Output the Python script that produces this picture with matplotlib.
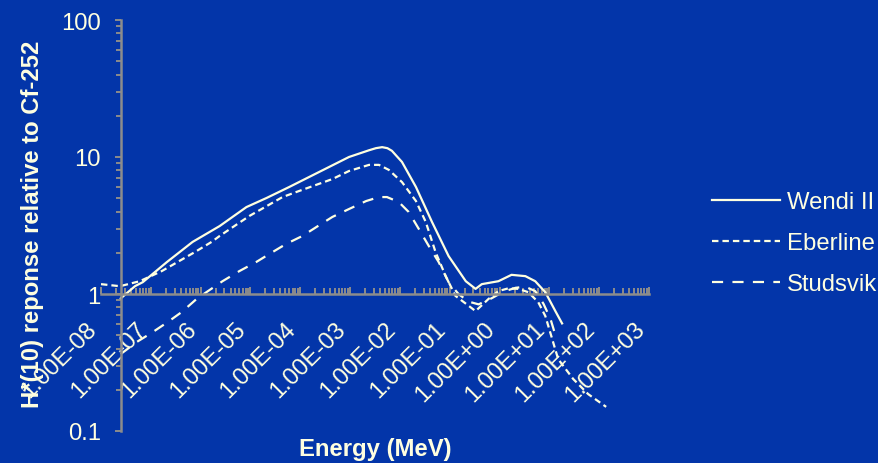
import matplotlib
matplotlib.use("Agg")
import matplotlib.pyplot as plt
from matplotlib.ticker import FixedLocator, FixedFormatter, LogLocator, NullFormatter

plt.rcParams['font.family'] = ['Liberation Sans', 'DejaVu Sans']

# ---- data ----
wendi_E = [2.5e-8, 4.8e-8, 6.9e-8, 2.1e-7, 6.9e-7, 2.4e-6, 8.3e-6, 2.1e-5, 6.0e-5,
           2.4e-4, 9.5e-4, 2.4e-3, 3.3e-3, 4.4e-3, 5.6e-3, 6.9e-3, 0.011, 0.021, 0.044, 0.095,
           0.21, 0.33, 0.44, 0.95, 1.74, 3.3, 5.2, 8.3, 13.2, 18.0]
wendi_R = [0.93, 1.14, 1.22, 1.71, 2.40, 3.13, 4.31, 5.02, 6.04,
           7.78, 10.0, 11.2, 11.6, 11.8, 11.6, 11.1, 9.2, 6.04, 3.36, 1.89,
           1.24, 1.09, 1.18, 1.24, 1.38, 1.35, 1.24, 1.03, 0.75, 0.61]

eber_E = [1e-8, 2.4e-8, 6e-8, 1.66e-7, 7.6e-7, 1.66e-6, 2.4e-6, 9.5e-6, 4.4e-5,
          9.5e-5, 4.4e-4, 9.5e-4, 2.4e-3, 3.8e-3, 6e-3, 0.011, 0.021, 0.033,
          0.052, 0.083, 0.13, 0.24, 0.33, 0.6, 0.95, 1.5, 2.4, 3.8, 6.0, 8.3,
          11.0, 15.0, 30.0, 60.0, 138.0]
eber_R = [1.18, 1.14, 1.24, 1.47, 2.02, 2.40, 2.65, 3.71, 5.1,
          5.65, 6.9, 7.9, 8.76, 8.76, 8.05, 6.56, 4.77, 3.36,
          2.02, 1.35, 0.97, 0.82, 0.75, 0.92, 1.05, 1.10, 1.09, 1.03, 0.87, 0.69,
          0.49, 0.335, 0.24, 0.186, 0.15]

stud_E = [2.5e-8, 5.2e-8, 1.1e-7, 2.2e-7, 4.2e-7, 8.3e-7, 1.3e-6, 2.75e-6, 6e-6,
          1.3e-5, 2.4e-5, 5.2e-5, 1.1e-4, 2.1e-4, 4.4e-4, 9.5e-4, 2.1e-3, 3.8e-3,
          5.5e-3, 9.5e-3, 0.015, 0.024, 0.038, 0.06, 0.095, 0.15, 0.24, 0.38,
          0.69, 1.2, 2.1, 3.3, 5.2, 7.6, 10.5, 12.6]
stud_R = [0.365, 0.446, 0.528, 0.625, 0.74, 0.92, 1.03, 1.24, 1.47,
          1.71, 1.96, 2.32, 2.65, 3.08, 3.65, 4.17, 4.77, 5.1,
          5.1, 4.69, 3.97, 2.98, 2.24, 1.71, 1.22, 1.0, 0.88, 0.84,
          0.93, 1.04, 1.11, 1.13, 1.05, 0.85, 0.66, 0.53]

series_names = ['Wendi II', 'Eberline', 'Studsvik']

x_ticks = [1e-8, 1e-7, 1e-6, 1e-5, 1e-4, 1e-3, 1e-2, 1e-1, 1e0, 1e1, 1e2, 1e3]
x_tick_labels = ['1.00E-08', '1.00E-07', '1.00E-06', '1.00E-05', '1.00E-04', '1.00E-03',
                 '1.00E-02', '1.00E-01', '1.00E+00', '1.00E+01', '1.00E+02', '1.00E+03']
y_ticks = [0.1, 1, 10, 100]
y_tick_labels = ['0.1', '1', '10', '100']

# ---- style ----
BG = '#0335A9'
FG = '#FFFFE0'
GRAY = '#8C8C8C'
FS = 17.2

fig = plt.figure(figsize=(8.79, 4.64), dpi=100, facecolor=BG)
ax = fig.add_axes([101/879, 1-432/464, (649-101)/879, (432-21)/464])
ax.set_facecolor(BG)

lw = 1.6
ax.plot(wendi_E, wendi_R, color=FG, lw=lw, ls='-', label=series_names[0])
ax.plot(eber_E, eber_R, color=FG, lw=lw, ls=(0, (2.9, 1.8)), label=series_names[1])
ax.plot(stud_E, stud_R, color=FG, lw=lw, ls=(0, (5.0, 4.2)), label=series_names[2])

ax.set_xscale('log')
ax.set_yscale('log')
ax.set_xlim(1e-8, 1e3)
ax.set_ylim(0.1, 100)

for s in ['top', 'right']:
    ax.spines[s].set_visible(False)
ax.spines['left'].set_position(('data', 2.5e-8))
ax.spines['bottom'].set_position(('data', 1))
for s in ['left', 'bottom']:
    ax.spines[s].set_color(GRAY)
    ax.spines[s].set_linewidth(1.8)

ax.xaxis.set_major_locator(FixedLocator(x_ticks))
ax.xaxis.set_major_formatter(FixedFormatter(x_tick_labels))
ax.xaxis.set_minor_locator(LogLocator(base=10, subs=range(2, 10), numticks=50))
ax.xaxis.set_minor_formatter(NullFormatter())
ax.yaxis.set_major_locator(FixedLocator(y_ticks))
ax.yaxis.set_major_formatter(FixedFormatter(y_tick_labels))
ax.yaxis.set_minor_locator(LogLocator(base=10, subs=range(2, 10), numticks=50))
ax.yaxis.set_minor_formatter(NullFormatter())

ax.tick_params(axis='x', which='major', direction='in', length=5, width=1.4,
               color=GRAY, labelcolor=FG, labelsize=FS, pad=17)
ax.tick_params(axis='x', which='minor', direction='in', length=4.3, width=1.4, color=GRAY)
ax.tick_params(axis='y', which='major', direction='out', length=4.5, width=1.4,
               color=GRAY, labelcolor=FG, labelsize=FS, pad=10)
ax.tick_params(axis='y', which='minor', direction='out', length=3.5, width=1.4, color=GRAY)

for lbl in ax.get_xticklabels():
    lbl.set_rotation(45)
    lbl.set_ha('right')
    lbl.set_va('top')

fig.text(375/879, 1-450/464, 'Energy (MeV)', color=FG, fontsize=FS, fontweight='bold',
         ha='center', va='center')
fig.text(33/879, 1-224/464, 'H*(10) reponse relative to Cf-252', color=FG, fontsize=FS,
         fontweight='bold', ha='center', va='center', rotation=90)

leg = fig.legend(loc='center left', bbox_to_anchor=(712/879, 1-244/464),
                 bbox_transform=fig.transFigure, frameon=False, fontsize=FS,
                 handlelength=2.85, handletextpad=0.3, labelspacing=0.8,
                 borderpad=0, borderaxespad=0)
for t in leg.get_texts():
    t.set_color(FG)

fig.savefig('out.png', dpi=100, facecolor=BG)
